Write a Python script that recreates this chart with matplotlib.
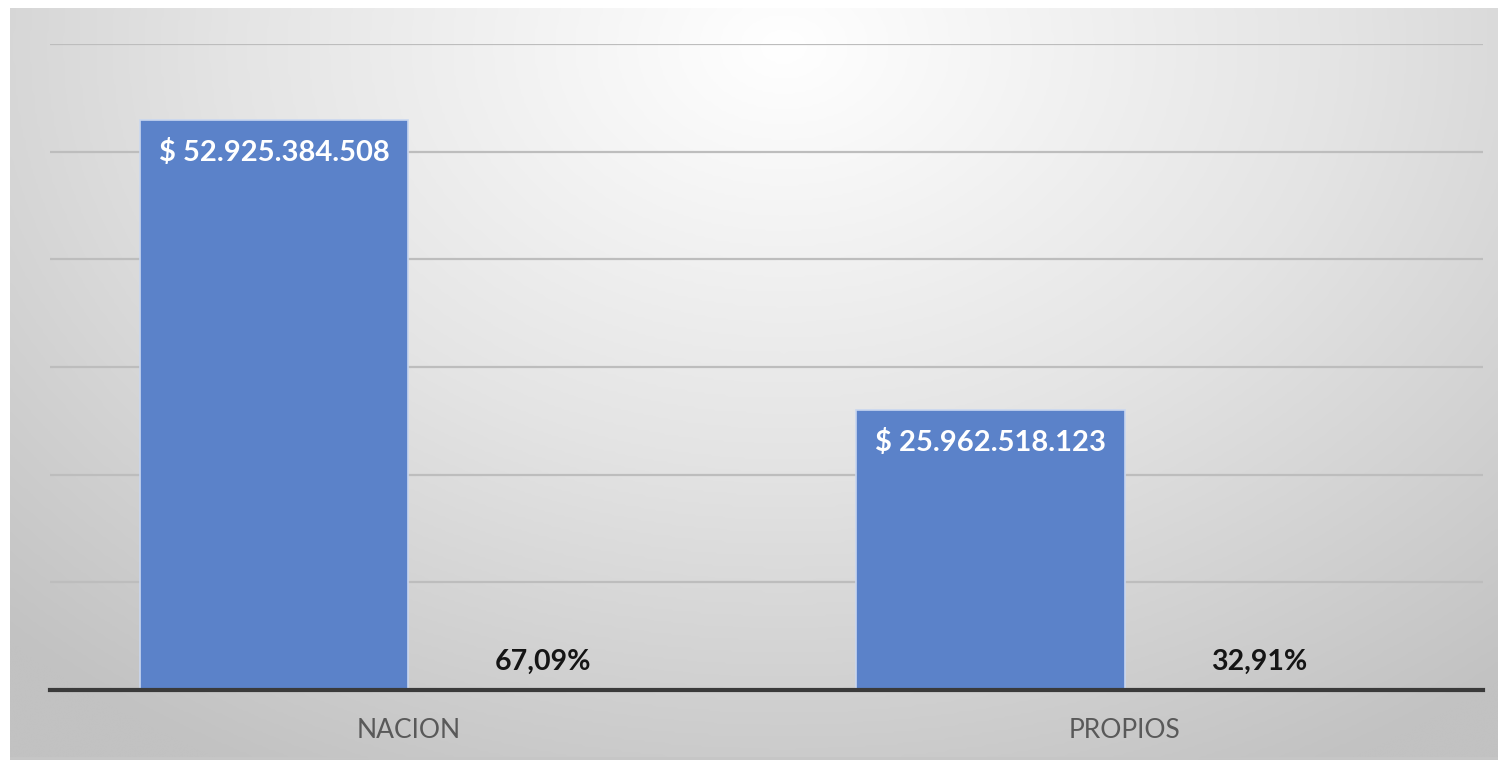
import numpy as np
import matplotlib
matplotlib.use("Agg")
import matplotlib.pyplot as plt
from matplotlib.colors import LinearSegmentedColormap

# ---- data ----
categories = ["NACION", "PROPIOS"]
valores = [52925384508, 25962518123]
porcentajes = [0.6709, 0.3291]
valor_labels = ["$ 52.925.384.508", "$ 25.962.518.123"]
pct_labels = ["67,09%", "32,91%"]

W, H = 1498, 760
fig = plt.figure(figsize=(W / 100, H / 100), dpi=100)
fig.patch.set_facecolor("white")

# background gradient panel
bg = fig.add_axes([10 / W, 0, 1 - 10 / W, 752 / H])
bg.set_zorder(-5)
ny, nx = 300, 600
yy, xx = np.mgrid[0:1:ny * 1j, 0:1:nx * 1j]
r = np.sqrt(((xx - 0.52) / 0.75) ** 2 + ((yy - 0.05) / 1.1) ** 2)
val = np.clip(r, 0, 1)
cmap = LinearSegmentedColormap.from_list("g", ["#ffffff", "#e4e4e4", "#c2c2c2"])
bg.imshow(val, cmap=cmap, aspect="auto", extent=[0, 1, 1, 0], vmin=0, vmax=1,
          interpolation="bicubic")
bg.plot([0, 1], [0.003, 0.003], color="#c6c6c6", lw=2, transform=bg.transAxes)
bg.set_xlim(0, 1)
bg.set_ylim(1, 0)
bg.axis("off")

# main axes
ax = fig.add_axes([50 / W, (H - 690) / H, (1483 - 50) / W, (690 - 44) / H])
ax.set_facecolor("none")
x = np.arange(len(categories))
w = 0.375
ax.bar(x - w / 2, valores, width=w, color="#5b82c9", edgecolor="#c9d7f0",
       linewidth=1.2, zorder=3)
ax.bar(x + w / 2, porcentajes, width=w, color="#5b82c9", zorder=3)

ax.set_xlim(-0.5, 1.5)
ax.set_ylim(0, 6e10)
ax.set_yticks(np.arange(0, 6.01e10, 1e10))
ax.yaxis.grid(True, color="#bdbdbd", lw=1.6, zorder=0)
ax.tick_params(axis="y", left=False, labelleft=False)
ax.tick_params(axis="x", bottom=False, pad=17, labelsize=19, labelcolor="#595959")
ax.set_xticks(x)
ax.set_xticklabels(categories, fontfamily="Lato")
for s in ["top", "right", "left"]:
    ax.spines[s].set_visible(False)
ax.spines["bottom"].set_color("#3a3a3a")
ax.spines["bottom"].set_linewidth(3)
ax.spines["bottom"].set_zorder(4)

for xi, v, lab in zip(x, valores, valor_labels):
    ax.annotate(lab, (xi - w / 2, v), xytext=(0, -23), textcoords="offset points",
                ha="center", va="center", color="white", fontsize=21,
                fontweight="bold", fontfamily="Lato", zorder=5)
for xi, p, lab in zip(x, porcentajes, pct_labels):
    ax.annotate(lab, (xi + w / 2, p), xytext=(0, 20), textcoords="offset points",
                ha="center", va="center", color="#151515", fontsize=20.5,
                fontweight="bold", fontfamily="Lato", zorder=5)

fig.savefig("out.png", dpi=100)
